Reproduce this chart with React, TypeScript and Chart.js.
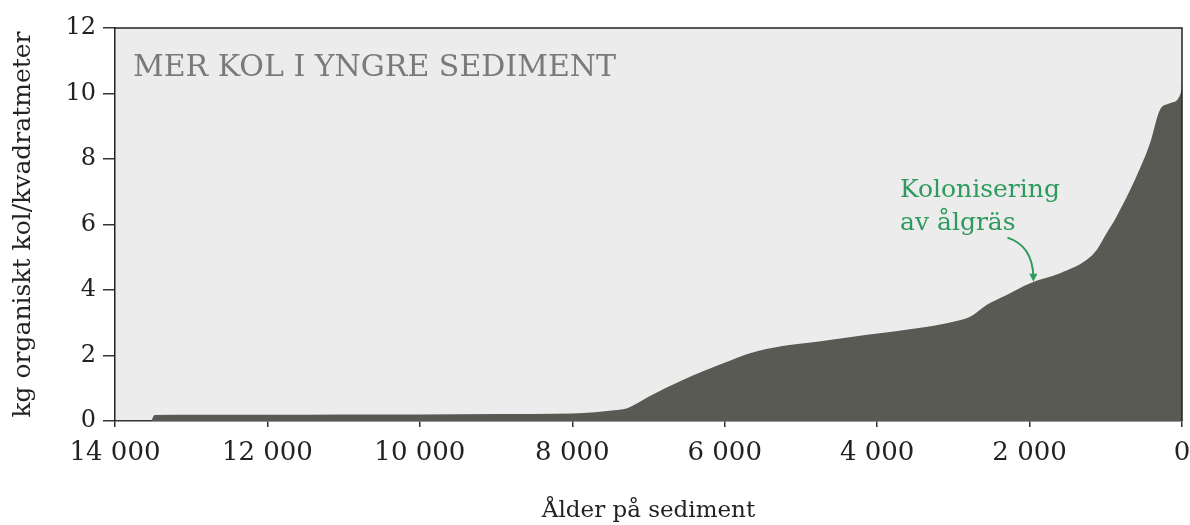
import React, { useEffect, useRef } from "react";
import { Chart, registerables } from "chart.js";

Chart.register(...registerables);

// Age of sediment (years) and cumulative organic carbon (kg/m²)
const ages = [13520, 13480, 13000, 12000, 11000, 10000, 9000, 8000, 7700, 7450, 7270, 7000, 6550, 6020, 5670, 5240, 4790, 4130, 3480, 3000, 2780, 2560, 2300, 2000, 1600, 1250, 1120, 990, 860, 600, 420, 290, 160, 50, 10, 0];
const carbon = [0.02, 0.18, 0.19, 0.19, 0.2, 0.2, 0.21, 0.23, 0.27, 0.33, 0.4, 0.74, 1.25, 1.76, 2.07, 2.29, 2.42, 2.63, 2.83, 3.03, 3.18, 3.55, 3.85, 4.2, 4.51, 4.92, 5.22, 5.73, 6.24, 7.46, 8.48, 9.5, 9.7, 9.85, 10.1, 10.3];

const xTicks = [14000, 12000, 10000, 8000, 6000, 4000, 2000, 0];
const yTicks = [0, 2, 4, 6, 8, 10, 12];

const chartTitle = "MER KOL I YNGRE SEDIMENT";
const annotationLines = ["Kolonisering", "av ålgräs"];
const annotationAnchor = { age: 3700, value: 6.84 };
const arrowStart = { age: 2290, value: 5.6 };
const arrowCtrl = { age: 1960, value: 5.35 };
const arrowEnd = { age: 1950, value: 4.28 };

const FONT = "'DejaVu Serif', serif";
const GREEN = "#2e9a5c";

function fmt(v: number): string {
  const s = String(Math.round(v));
  return s.replace(/\B(?=(\d{3})+(?!\d))/g, " ");
}

const decorPlugin = {
  id: "decor",
  beforeDraw(chart: any) {
    const { ctx, chartArea } = chart;
    ctx.save();
    ctx.fillStyle = "#ececec";
    ctx.fillRect(chartArea.left, chartArea.top, chartArea.right - chartArea.left, chartArea.bottom - chartArea.top);
    ctx.restore();
  },
  afterDraw(chart: any) {
    const { ctx, chartArea } = chart;
    const xs = chart.scales.x;
    const ys = chart.scales.y;
    ctx.save();
    // top & right frame
    ctx.strokeStyle = "#222";
    ctx.lineWidth = 1.5;
    ctx.beginPath();
    ctx.moveTo(chartArea.left, chartArea.top);
    ctx.lineTo(chartArea.right, chartArea.top);
    ctx.lineTo(chartArea.right, chartArea.bottom);
    ctx.stroke();
    // title
    ctx.fillStyle = "#7a7a7a";
    ctx.font = `30px ${FONT}`;
    ctx.textBaseline = "alphabetic";
    ctx.textAlign = "left";
    ctx.fillText(chartTitle, chartArea.left + 18, chartArea.top + 48);
    // annotation
    ctx.fillStyle = GREEN;
    ctx.font = `25px ${FONT}`;
    const ax = xs.getPixelForValue(annotationAnchor.age);
    const ay = ys.getPixelForValue(annotationAnchor.value);
    annotationLines.forEach((l, i) => ctx.fillText(l, ax, ay + i * 33));
    // arrow
    const sx = xs.getPixelForValue(arrowStart.age), sy = ys.getPixelForValue(arrowStart.value);
    const cx = xs.getPixelForValue(arrowCtrl.age), cy = ys.getPixelForValue(arrowCtrl.value);
    const ex = xs.getPixelForValue(arrowEnd.age), ey = ys.getPixelForValue(arrowEnd.value);
    ctx.strokeStyle = GREEN;
    ctx.lineWidth = 2;
    ctx.beginPath();
    ctx.moveTo(sx, sy);
    ctx.quadraticCurveTo(cx, cy, ex, ey - 4);
    ctx.stroke();
    ctx.beginPath();
    ctx.moveTo(ex - 4, ey - 7);
    ctx.lineTo(ex + 4, ey - 7);
    ctx.lineTo(ex, ey + 1);
    ctx.closePath();
    ctx.fill();
    ctx.restore();
  },
};

export default function App() {
  const ref = useRef<HTMLCanvasElement>(null);
  useEffect(() => {
    if (!ref.current) return;
    const chart = new Chart(ref.current, {
      type: "line",
      data: {
        datasets: [
          {
            data: ages.map((a, i) => ({ x: a, y: carbon[i] })),
            fill: "origin",
            backgroundColor: "#5a5a55",
            borderColor: "#5a5a55",
            borderWidth: 0,
            pointRadius: 0,
            cubicInterpolationMode: "monotone",
          },
        ],
      },
      options: {
        responsive: false,
        animation: false,
        layout: { padding: { top: 28, right: 8, left: 0, bottom: 0 } },
        plugins: { legend: { display: false }, tooltip: { enabled: false } },
        scales: {
          x: {
            type: "linear",
            reverse: true,
            min: 0,
            max: 14000,
            afterBuildTicks: (s: any) => {
              s.ticks = xTicks.map((v) => ({ value: v }));
            },
            afterFit: (s: any) => {
              s.height = 104;
              s.paddingRight = 0;
              s.paddingLeft = 0;
            },
            ticks: {
              callback: (v: any) => fmt(Number(v)),
              color: "#222",
              font: { family: FONT, size: 26 },
              padding: 11,
              maxRotation: 0,
              autoSkip: false,
            },
            grid: { drawOnChartArea: false, tickLength: 6, color: "#333", lineWidth: 1.5 },
            border: { display: true, color: "#333", width: 1.5 },
            title: {
              display: true,
              text: "Ålder på sediment",
              color: "#222",
              font: { family: FONT, size: 23 },
              padding: { top: 0, bottom: 0 },
            },
          },
          y: {
            type: "linear",
            min: 0,
            max: 12,
            afterBuildTicks: (s: any) => {
              s.ticks = yTicks.map((v) => ({ value: v }));
            },
            afterFit: (s: any) => {
              s.width = 115;
            },
            ticks: {
              color: "#222",
              font: { family: FONT, size: 24 },
              padding: 7,
            },
            grid: { drawOnChartArea: false, tickLength: 12, color: "#333", lineWidth: 1.5 },
            border: { display: true, color: "#222", width: 1.5 },
            title: {
              display: true,
              text: "kg organiskt kol/kvadratmeter",
              color: "#222",
              font: { family: FONT, size: 25 },
              padding: { top: 8, bottom: 0 },
            },
          },
        },
      },
      plugins: [decorPlugin],
    } as any);
    return () => chart.destroy();
  }, []);
  return (
    <div style={{ position: "absolute", left: 0, top: 0, width: 1190, height: 525, background: "#fff" }}>
      <canvas ref={ref} width={1190} height={525} style={{ display: "block" }} />
    </div>
  );
}
